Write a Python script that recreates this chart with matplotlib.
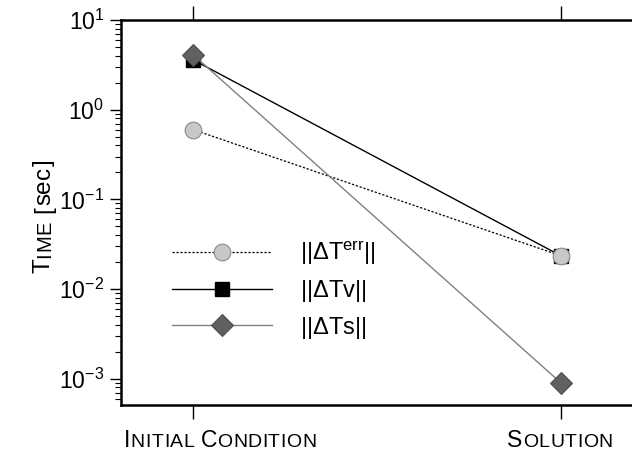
import numpy as np
import matplotlib
matplotlib.use("Agg")
import matplotlib.pyplot as plt
import matplotlib.transforms as mtransforms
from matplotlib.ticker import LogLocator, NullFormatter

plt.rcParams['font.family'] = ['Liberation Sans', 'DejaVu Sans']
plt.rcParams['mathtext.fontset'] = 'custom'
plt.rcParams['mathtext.rm'] = 'Liberation Sans'
plt.rcParams['mathtext.it'] = 'Liberation Sans:italic'
plt.rcParams['mathtext.bf'] = 'Liberation Sans:bold'
plt.rcParams['axes.unicode_minus'] = False

# data
categories = ["Initial condition", "Solution"]
t_err = [0.60, 0.0235]
t_v = [3.6, 0.0235]
t_s = [4.1, 0.00090]
labels = [r"||$\Delta$T$^{\mathrm{err}}$||", r"||$\Delta$Tv||", r"||$\Delta$Ts||"]

W, H = 632, 454
fig = plt.figure(figsize=(W / 100, H / 100), dpi=100)
ax = fig.add_axes([121 / W, 1 - 405 / H, 512 / W, 385 / H])

x = np.arange(len(categories))
l_v, = ax.plot(x, t_v, color='black', lw=1.0, marker='s', ms=9.5,
               mfc='black', mec='black', zorder=3)
l_err, = ax.plot(x, t_err, color='black', lw=0.9, ls=(0, (1.8, 1.4)),
                 marker='o', ms=12, mfc='#c8c8c8', mec='#8a8a8a', mew=0.8, zorder=4)
l_s, = ax.plot(x, t_s, color='#808080', lw=1.0, marker='D', ms=11,
               mfc='#606060', mec='#505050', mew=0.8, zorder=5)

ax.set_yscale('log')
ax.set_ylim(5.1e-4, 10)
ax.set_xlim(-0.196, 1.196)

for side in ['left', 'bottom', 'top']:
    ax.spines[side].set_linewidth(1.8)
ax.spines['right'].set_visible(False)

ax.yaxis.set_major_locator(LogLocator(base=10, numticks=10))
ax.yaxis.set_minor_locator(LogLocator(base=10, subs=np.arange(2, 10), numticks=10))
ax.yaxis.set_minor_formatter(NullFormatter())
ax.tick_params(axis='y', which='major', direction='out', length=8, width=1.0,
               labelsize=16.5, pad=4, right=False)
ax.tick_params(axis='y', which='minor', direction='out', length=4, width=0.8, right=False)
ax.set_xticks(x)
ax.set_xticklabels([])
ax.tick_params(axis='x', which='major', direction='out', length=10, width=1.0,
               top=True, bottom=True)
ax.tick_params(axis='x', which='minor', top=False, bottom=False)

leg = ax.legend([l_err, l_v, l_s], labels, loc='center left',
                bbox_to_anchor=(172 / W, 1 - 290 / H), bbox_transform=fig.transFigure,
                frameon=False, fontsize=17, handlelength=4.24, handletextpad=1.19,
                labelspacing=0.45, borderpad=0, borderaxespad=0, numpoints=1)

renderer = fig.canvas.get_renderer()


def small_caps(xp, yp, pieces, rotation=0, ha='center', track=0.5):
    # pieces: list of (text, fontsize); one Text per character so that
    # a little letter spacing can be added
    texts, widths = [], []
    for s, fs in pieces:
        for ch in s:
            t = fig.text(0, 0, ch, fontsize=fs, ha='left', va='baseline')
            w = t.get_window_extent(renderer).width if ch != ' ' else fs * 100 / 72 * 0.278
            texts.append(t)
            widths.append(w + track)
    total = sum(widths) - track
    c, sn = np.cos(np.radians(rotation)), np.sin(np.radians(rotation))
    pos = -total / 2 if ha == 'center' else 0
    for t, w in zip(texts, widths):
        t.set_position((xp / W, yp / H))
        t.set_rotation(rotation)
        t.set_rotation_mode('anchor')
        t.set_transform(mtransforms.offset_copy(fig.transFigure, fig=fig,
                                                x=pos * c, y=pos * sn, units='dots'))
        pos += w


big, small = 16.5, 14
small_caps(124, H - 447, [("I", big), ("NITIAL ", small), ("C", big), ("ONDITION", small)], ha='left')
small_caps(560, H - 447, [("S", big), ("OLUTION", small)])
small_caps(50, H - 216, [("T", 17.5), ("IME", 14.5), (" [sec]", 17.5)], rotation=90, track=0.6)

fig.savefig("out.png", dpi=100)
